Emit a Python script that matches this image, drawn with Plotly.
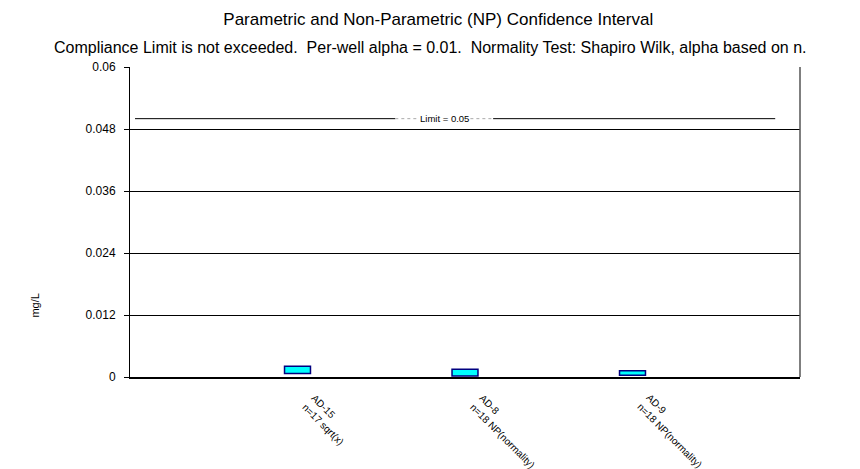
import plotly.graph_objects as go

wells = ["AD-15", "AD-8", "AD-9"]
well_notes = ["n=17 sqrt(x)", "n=18 NP(normality)", "n=18 NP(normality)"]
ci_lower = [0.0007, 0.0002, 0.00033]
ci_upper = [0.0021, 0.0015, 0.0012]
limit = 0.05
y_ticks = [0, 0.012, 0.024, 0.036, 0.048, 0.06]
y_tick_labels = ["0", "0.012", "0.024", "0.036", "0.048", "0.06"]

FONT = "Arial, Liberation Sans, sans-serif"
xpos = [1, 2, 3]

fig = go.Figure()
fig.add_trace(go.Bar(
    x=xpos,
    y=[u - l for l, u in zip(ci_lower, ci_upper)],
    base=ci_lower,
    width=0.155,
    marker=dict(color="#00FFFF", line=dict(color="#000080", width=1.5)),
    hoverinfo="skip",
))

# category labels, rotated
for xp, w, n in zip(xpos, wells, well_notes):
    fig.add_annotation(xref="x", yref="paper", x=xp, y=-0.04, text=f"{w}<br>{n}",
                       textangle=45, showarrow=False, align="left",
                       xanchor="left", yanchor="top",
                       font=dict(family=FONT, size=10, color="black"))

# limit line (split around label)
fig.add_shape(type="line", xref="paper", yref="y", x0=0.0075, x1=0.396, y0=limit, y1=limit,
              line=dict(color="black", width=1))
fig.add_shape(type="line", xref="paper", yref="y", x0=0.396, x1=0.43, y0=limit, y1=limit,
              line=dict(color="#aaaaaa", width=1, dash="dot"))
fig.add_shape(type="line", xref="paper", yref="y", x0=0.508, x1=0.542, y0=limit, y1=limit,
              line=dict(color="#aaaaaa", width=1, dash="dot"))
fig.add_shape(type="line", xref="paper", yref="y", x0=0.542, x1=0.963, y0=limit, y1=limit,
              line=dict(color="black", width=1))
fig.add_annotation(xref="paper", yref="y", x=0.469, y=limit, text=f"Limit = {limit:g}",
                   showarrow=False, font=dict(family=FONT, size=9.5, color="black"),
                   xanchor="center", yanchor="middle")

fig.add_annotation(xref="paper", yref="paper", x=0.448, xanchor="center", y=1.0645, yanchor="middle",
                   text="Compliance Limit is not exceeded.&nbsp;&nbsp;Per-well alpha = 0.01.&nbsp;&nbsp;Normality Test: Shapiro Wilk, alpha based on n.",
                   showarrow=False, font=dict(family=FONT, size=16, color="black"))
fig.add_annotation(xref="paper", yref="paper", x=-0.142, y=0.23, text="mg/L", textangle=-90,
                   showarrow=False, font=dict(family=FONT, size=11, color="black"),
                   xanchor="center", yanchor="middle")

fig.update_layout(
    width=852, height=461,
    margin=dict(l=122, r=60, t=59, b=92),
    paper_bgcolor="white", plot_bgcolor="white",
    showlegend=False,
    title=dict(text="Parametric and Non-Parametric (NP) Confidence Interval",
               x=0.505, xanchor="center", y=1 - 11 / 461, yanchor="middle", yref="container",
               font=dict(family=FONT, size=17, color="black")),
    font=dict(family=FONT, color="black"),
)
fig.update_xaxes(range=[0, 4], tickvals=xpos, showticklabels=False, ticks="", showgrid=False,
                 showline=True, linecolor="black", linewidth=2, mirror=False, zeroline=False,
                 fixedrange=True)
fig.update_yaxes(range=[0, 0.06], tickvals=y_ticks, ticktext=y_tick_labels,
                 tickfont=dict(family=FONT, size=12), ticks="outside", ticklen=5, tickcolor="black",
                 ticklabelstandoff=6,
                 showgrid=True, gridcolor="black", gridwidth=1, showline=True, linecolor="black",
                 linewidth=1, mirror=False, zeroline=False, fixedrange=True)
# right border
fig.add_shape(type="line", xref="paper", yref="paper", x0=1, x1=1, y0=0, y1=1,
              line=dict(color="#555555", width=1.5))

fig.write_html("out.html")
